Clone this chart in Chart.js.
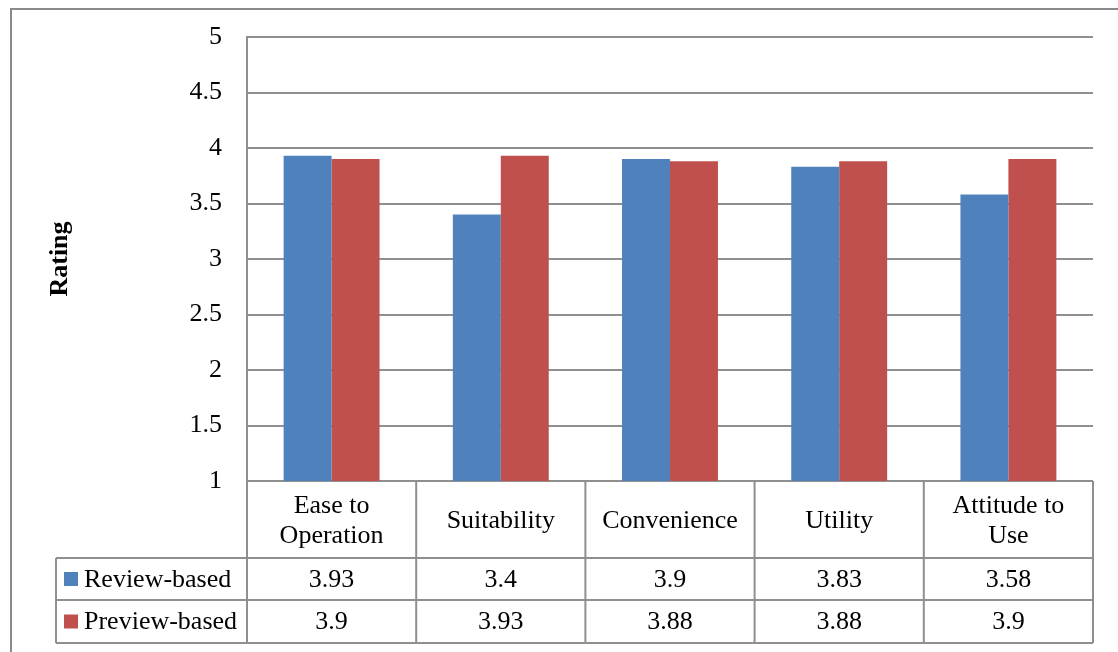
<!DOCTYPE html>
<html>
<head>
<meta charset="utf-8">
<script src="https://cdn.jsdelivr.net/npm/chart.js@4/dist/chart.umd.min.js"></script>
<style>
  html, body { margin: 0; padding: 0; background: #ffffff; }
  canvas { display: block; }
</style>
</head>
<body>
<canvas id="chart" width="1118" height="652"></canvas>
<script>
// Rating per usability aspect, two study conditions
const categories = [["Ease to", "Operation"], "Suitability", "Convenience", "Utility", ["Attitude to", "Use"]];
const seriesNames = ["Review-based", "Preview-based"];
const reviewBased = [3.93, 3.4, 3.9, 3.83, 3.58];
const previewBased = [3.9, 3.93, 3.88, 3.88, 3.9];
const tableValues = [["3.93", "3.4", "3.9", "3.83", "3.58"], ["3.9", "3.93", "3.88", "3.88", "3.9"]];
const seriesColors = ["#4F81BD", "#C0504D"];
const yMin = 1, yMax = 5, yStep = 0.5;

const FONT = "'Liberation Serif', 'Times New Roman', serif";
const LINE = "#8f8f8f";

// Outer frame of the chart object
const framePlugin = {
  id: "frame",
  beforeDraw(chart) {
    const ctx = chart.ctx;
    ctx.save();
    ctx.fillStyle = "#ffffff";
    ctx.fillRect(0, 0, chart.width, chart.height);
    ctx.strokeStyle = "#8a8a8a";
    ctx.lineWidth = 2;
    ctx.beginPath();
    ctx.moveTo(11, chart.height + 5);
    ctx.lineTo(11, 9);
    ctx.lineTo(chart.width + 5, 9);
    ctx.stroke();
    ctx.restore();
  }
};

// Data table under the plot, aligned to the category scale
const dataTablePlugin = {
  id: "dataTable",
  afterDraw(chart) {
    const ctx = chart.ctx;
    const x = chart.scales.x;
    const area = chart.chartArea;
    const top = area.bottom;
    const headerBottom = top + 77;
    const row1Bottom = headerBottom + 42;
    const row2Bottom = row1Bottom + 43;
    const legendLeft = 56;
    const n = categories.length;
    const edges = [];
    for (let i = 0; i <= n; i++) edges.push(x.getPixelForValue(i - 0.5));

    ctx.save();
    ctx.strokeStyle = LINE;
    ctx.lineWidth = 2;
    ctx.beginPath();
    // verticals between categories
    edges.forEach(ex => { ctx.moveTo(ex, top); ctx.lineTo(ex, row2Bottom); });
    // horizontals
    [headerBottom, row1Bottom, row2Bottom].forEach(y => {
      ctx.moveTo(legendLeft, y); ctx.lineTo(edges[n], y);
    });
    ctx.moveTo(legendLeft, headerBottom); ctx.lineTo(legendLeft, row2Bottom);
    ctx.stroke();

    ctx.fillStyle = "#000000";
    ctx.font = "26px " + FONT;
    ctx.textAlign = "center";
    ctx.textBaseline = "middle";
    const headerMid = (top + headerBottom) / 2 + 2;
    categories.forEach((c, i) => {
      const cx = x.getPixelForValue(i);
      const lines = Array.isArray(c) ? c : [c];
      const lh = 30;
      lines.forEach((t, k) => {
        ctx.fillText(t, cx, headerMid + (k - (lines.length - 1) / 2) * lh);
      });
    });
    const rowMids = [(headerBottom + row1Bottom) / 2, (row1Bottom + row2Bottom) / 2];
    tableValues.forEach((row, r) => {
      row.forEach((v, i) => ctx.fillText(v, x.getPixelForValue(i), rowMids[r] + 1));
    });
    // legend keys
    ctx.textAlign = "left";
    seriesNames.forEach((name, r) => {
      ctx.fillStyle = seriesColors[r];
      ctx.fillRect(64, rowMids[r] - 7, 14, 14);
      ctx.fillStyle = "#000000";
      ctx.fillText(name, 84, rowMids[r] + 1);
    });
    ctx.restore();
  }
};

new Chart(document.getElementById("chart"), {
  type: "bar",
  data: {
    labels: categories,
    datasets: [
      { label: seriesNames[0], data: reviewBased, backgroundColor: seriesColors[0] },
      { label: seriesNames[1], data: previewBased, backgroundColor: seriesColors[1] }
    ]
  },
  options: {
    responsive: false,
    animation: false,
    events: [],
    layout: { padding: { left: 0, top: 37, right: 25, bottom: 171 } },
    datasets: { bar: { categoryPercentage: 0.567, barPercentage: 1.0, borderWidth: 0 } },
    plugins: { legend: { display: false }, tooltip: { enabled: false }, title: { display: false } },
    scales: {
      x: { display: false, offset: true },
      y: {
        min: yMin,
        max: yMax,
        ticks: {
          stepSize: yStep,
          padding: 25,
          color: "#000000",
          font: { family: FONT, size: 26 },
          callback: v => String(v)
        },
        grid: { color: LINE, lineWidth: 2, drawTicks: false },
        border: { color: LINE, width: 2 },
        title: {
          display: true,
          text: "Rating",
          color: "#000000",
          font: { family: FONT, size: 26, weight: "bold" },
          padding: { top: 45, bottom: 0 }
        },
        afterFit(scale) {
          scale.width = 247;
          scale.paddingTop = 0;
          scale.paddingBottom = 0;
        }
      }
    }
  },
  plugins: [framePlugin, dataTablePlugin]
});
</script>
</body>
</html>
